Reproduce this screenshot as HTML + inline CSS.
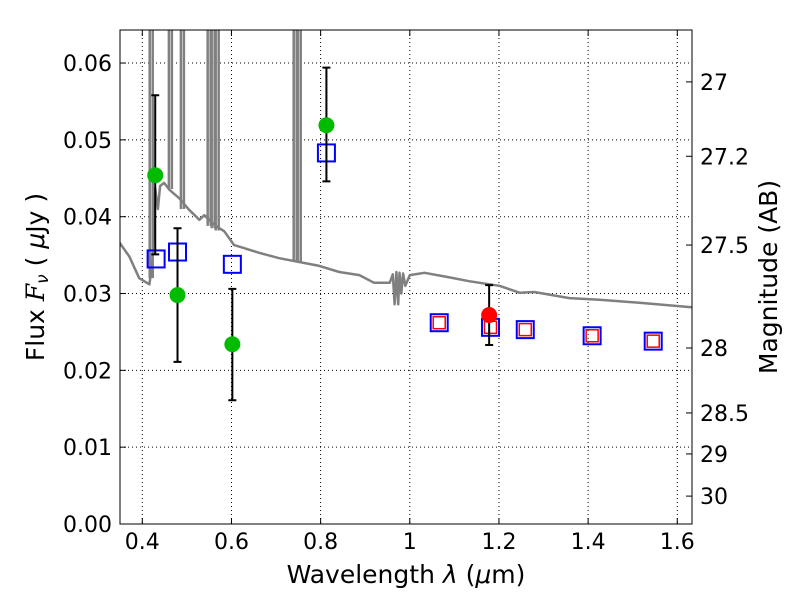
<!DOCTYPE html>
<html><head><meta charset="utf-8"><style>
html,body{margin:0;padding:0;background:#fff;}
svg text{font-family:"DejaVu Sans","Liberation Sans",sans-serif;fill:#000;}
</style></head><body>
<svg id="chart" width="800" height="600" xmlns="http://www.w3.org/2000/svg">
<rect width="800" height="600" fill="#fff"/>
<g id="grid"></g>
<g id="spec"></g>
<g id="marks"></g>
<rect x="120" y="30" width="572" height="494" fill="none" stroke="#000" stroke-width="1"/>
<g id="axes"></g>
<text x="406" y="583" font-size="25" text-anchor="middle">Wavelength  <tspan font-style="italic">λ</tspan> (<tspan font-style="italic">μ</tspan>m)</text>
<text transform="translate(44,277) rotate(-90)" font-size="25" text-anchor="middle">Flux  <tspan font-family="DejaVu Serif" font-style="italic">F</tspan><tspan font-size="17" font-style="italic" dy="4">ν</tspan><tspan dy="-4">  ( <tspan font-style="italic">μ</tspan>Jy )</tspan></text>
<text transform="translate(777,277) rotate(-90)" font-size="25" text-anchor="middle">Magnitude (AB)</text>
</svg>
<script>
const xTicks=[0.4,0.6,0.8,1.0,1.2,1.4,1.6];
const xTickLabels=["0.4","0.6","0.8","1","1.2","1.4","1.6"];
const yTicks=[0,0.01,0.02,0.03,0.04,0.05,0.06];
const yTickLabels=["0.00","0.01","0.02","0.03","0.04","0.05","0.06"];
const magTicks=[27,27.2,27.5,28,28.5,29,30];
const magLabels=["27","27.2","27.5","28","28.5","29","30"];
const specWave=[0.348,0.371,0.393,0.416,0.422,0.429,0.435,0.440,0.449,0.461,0.483,0.505,0.528,0.539,0.562,0.584,0.606,0.629,0.662,0.707,0.752,0.797,0.842,0.887,0.920,0.955,0.962,0.966,0.970,0.974,0.977,0.981,0.985,0.990,1.000,1.033,1.089,1.133,1.201,1.246,1.279,1.358,1.425,1.515,1.632];
const specFlux=[0.0367,0.0348,0.0320,0.0312,0.0337,0.0437,0.0410,0.0440,0.0444,0.0435,0.0424,0.0409,0.0396,0.0402,0.0389,0.0381,0.0363,0.0359,0.0353,0.0346,0.0341,0.0336,0.0328,0.0324,0.0314,0.0314,0.0325,0.0286,0.0328,0.0286,0.0327,0.0300,0.0326,0.0310,0.0324,0.0327,0.0321,0.0316,0.0310,0.0301,0.0302,0.0294,0.0292,0.0288,0.0282];
const lineWave=[0.420,0.463,0.490,0.550,0.559,0.568,0.743,0.752];
const lineBase=[0.0320,0.0436,0.0410,0.0388,0.0385,0.0382,0.0342,0.0341];
const obsWave=[0.429,0.479,0.602,0.813];
const obsFlux=[0.0454,0.0298,0.0234,0.0519];
const obsHi=[0.0558,0.0385,0.0306,0.0594];
const obsLo=[0.0351,0.0211,0.0161,0.0446];
const nirWave=[1.178];const nirFlux=[0.0272];const nirHi=[0.0311];const nirLo=[0.0233];
const modelWave=[0.431,0.479,0.602,0.813,1.066,1.181,1.259,1.409,1.546];
const modelFlux=[0.0345,0.0354,0.0338,0.0483,0.0262,0.0256,0.0253,0.0245,0.0238];
const predWave=[1.066,1.181,1.259,1.409,1.546];
const predFlux=[0.0262,0.0256,0.0253,0.0245,0.0238];

const NS="http://www.w3.org/2000/svg";
const X0=120,X1=692,Y0=524,Y1=30,XMIN=0.35,XMAX=1.633,YMAX=0.0643;
const sx=v=>X0+(v-XMIN)/(XMAX-XMIN)*(X1-X0);
const sy=v=>Y0-v/YMAX*(Y0-Y1);
const magToFlux=m=>Math.pow(10,(23.9-m)/2.5);
function el(t,a,p){const e=document.createElementNS(NS,t);for(const k in a)e.setAttribute(k,a[k]);p.appendChild(e);return e;}
const grid=document.getElementById('grid'),axes=document.getElementById('axes'),spec=document.getElementById('spec'),marks=document.getElementById('marks');
xTicks.forEach((v,i)=>{const x=sx(v);
 const g=el('line',{x1:x,x2:x,y1:Y1,y2:Y0,stroke:'#000','stroke-dasharray':'1,3','stroke-width':1},grid);
 
 el('line',{x1:x,x2:x,y1:Y0,y2:Y0-6,stroke:'#000'},axes);el('line',{x1:x,x2:x,y1:Y1,y2:Y1+6,stroke:'#000'},axes);
 const t=el('text',{x:x,y:Y0+25,'font-size':22,'text-anchor':'middle'},axes);t.textContent=xTickLabels[i];
 });
yTicks.forEach((v,i)=>{const y=sy(v);
 const g=el('line',{x1:X0,x2:X1,y1:y,y2:y,stroke:'#000','stroke-dasharray':'1,3','stroke-width':1},grid);
 
 el('line',{x1:X0,x2:X0+6,y1:y,y2:y,stroke:'#000'},axes);
 const t=el('text',{x:X0-8,y:y+8,'font-size':22,'text-anchor':'end'},axes);t.textContent=yTickLabels[i];
 });
magTicks.forEach((m,i)=>{const y=sy(magToFlux(m));
 el('line',{x1:X1,x2:X1-6,y1:y,y2:y,stroke:'#000'},axes);
 const t=el('text',{x:X1+8,y:y+8,'font-size':22},axes);t.textContent=magLabels[i];
 });
const cp=el('clipPath',{id:'cp'},document.getElementById('chart'));el('rect',{x:X0,y:Y1,width:X1-X0,height:Y0-Y1},cp);
spec.setAttribute('clip-path','url(#cp)');
let d=specWave.map((w,i)=>(i?'L':'M')+sx(w).toFixed(1)+','+sy(specFlux[i]).toFixed(1)).join('');
const sp=el('path',{d:d,fill:'none',stroke:'#808080','stroke-width':2.5,'stroke-linejoin':'round'},spec);

lineWave.forEach((w,i)=>{const x=sx(w);
 const l=el('path',{d:`M${x-1.5},${sy(lineBase[i])}L${x-1.5},${Y1-5}M${x+1.5},${Y1-5}L${x+1.5},${sy(lineBase[i])}`,fill:'none',stroke:'#808080','stroke-width':2.5},spec);
 });
function errbar(w,lo,hi){const x=sx(w);
 const e=el('path',{d:`M${x},${sy(lo)}L${x},${sy(hi)}M${x-4},${sy(lo)}L${x+4},${sy(lo)}M${x-4},${sy(hi)}L${x+4},${sy(hi)}`,stroke:'#000','stroke-width':2,fill:'none'},marks);
 }
modelWave.forEach((w,i)=>{const r=el('rect',{x:sx(w)-8.5,y:sy(modelFlux[i])-8.5,width:17,height:17,fill:'none',stroke:'#0000ff','stroke-width':2},marks);
 });
predWave.forEach((w,i)=>{const r=el('rect',{x:sx(w)-6,y:sy(predFlux[i])-6,width:12,height:12,fill:'none',stroke:'#ff0000','stroke-width':1.5},marks);
 });
obsWave.forEach((w,i)=>{errbar(w,obsLo[i],obsHi[i]);
 const c=el('circle',{cx:sx(w),cy:sy(obsFlux[i]),r:8,fill:'#00bb00'},marks);
 });
nirWave.forEach((w,i)=>{errbar(w,nirLo[i],nirHi[i]);
 const c=el('circle',{cx:sx(w),cy:sy(nirFlux[i]),r:8,fill:'#ff0000'},marks);
 });
</script>
</body></html>
